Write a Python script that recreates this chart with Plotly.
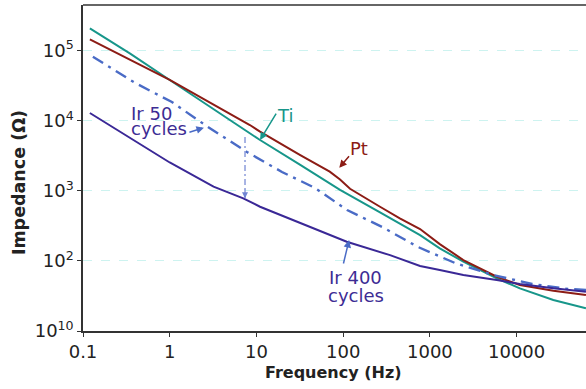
import numpy as np
import plotly.graph_objects as go

# Impedance spectra (|Z| in ohm vs frequency in Hz)
pt_freq = [0.12, 0.35, 1.0, 8.4, 11, 32, 70, 92, 120, 266, 450, 770, 1300, 2430, 5900, 10900, 26500, 63000]
pt_imp = [145000, 74300, 38200, 8700, 7000, 3240, 1880, 1450, 1070, 593, 405, 285, 174, 103, 59.5, 45.3, 37.6, 32.6]

ti_freq = [0.12, 0.35, 1.0, 8.4, 11, 32, 92, 266, 770, 1300, 2430, 5900, 10900, 26500, 63000]
ti_imp = [208700, 91000, 38200, 6620, 5310, 2340, 1030, 491, 234, 151, 97.5, 56.5, 40.6, 27.7, 21.1]

ir50_freq = [0.13, 0.40, 1.06, 1.63, 2.76, 7.78, 19.7, 47.3, 111, 281, 730, 1950, 5350, 15100, 39200, 63100]
ir50_imp = [82000, 34600, 18500, 12900, 8150, 3580, 1860, 1100, 532, 305, 158, 93.3, 63, 46.9, 39.8, 38.5]

ir400_freq = [0.12, 0.35, 0.71, 1.0, 3.2, 7.05, 11, 32, 49.5, 110, 347, 770, 1300, 2430, 5900, 10900, 26500, 63000]
ir400_imp = [12900, 5700, 3300, 2540, 1150, 782, 593, 344, 276, 188, 121, 84.5, 74.1, 63, 53.4, 46.8, 40.6, 36.3]

# drop from Ir 50 cycles to Ir 400 cycles
drop_freq = [7.38, 7.38]
drop_imp = [5860, 782]

x_ticks = [0.1, 1, 10, 100, 1000, 10000]
x_labels = ["0.1", "1", "10", "100", "1000", "10000"]
y_ticks = [10, 100, 1000, 10000, 100000]
y_labels = ["10<sup>10</sup>", "10<sup>2</sup>", "10<sup>3</sup>", "10<sup>4</sup>", "10<sup>5</sup>"]

TEAL = "#17968a"
RED = "#8c1c15"
BLUE = "#4a6bc6"
INDIGO = "#3a2896"
LABEL = "#3d2c94"
FONT = "DejaVu Sans, Arial, sans-serif"

fig = go.Figure()
fig.add_trace(go.Scatter(x=ti_freq, y=ti_imp, mode="lines",
                         line=dict(color=TEAL, width=2)))
fig.add_trace(go.Scatter(x=pt_freq, y=pt_imp, mode="lines",
                         line=dict(color=RED, width=2)))
fig.add_trace(go.Scatter(x=ir50_freq, y=ir50_imp, mode="lines",
                         line=dict(color=BLUE, width=2.4, dash="12px,6px,3px,6px")))
fig.add_trace(go.Scatter(x=ir400_freq, y=ir400_imp, mode="lines",
                         line=dict(color=INDIGO, width=2)))
fig.add_trace(go.Scatter(x=drop_freq, y=drop_imp, mode="lines",
                         line=dict(color="#6f84d2", width=1.2, dash="6px,3px,2px,3px")))

L = np.log10


def label(text, f, z, color, xanchor="center"):
    return dict(x=L(f), y=L(z), xref="x", yref="y", text=text, showarrow=False,
                xanchor=xanchor, yanchor="middle",
                font=dict(family=FONT, size=18, color=color))


def arrow(f, z, ax, ay, color, width=1.5):
    return dict(x=L(f), y=L(z), xref="x", yref="y", text="", showarrow=True,
                ax=ax, ay=ay, arrowhead=2, arrowsize=1, arrowwidth=width,
                arrowcolor=color, standoff=0, startstandoff=0)


annotations = [
    label("Ti", 21.5, 12080, TEAL),
    arrow(11.0, 5310, 17, -28, TEAL),
    label("Pt", 152, 4050, RED),
    arrow(90.2, 2140, 11, -13, RED),
    label("Ir 50", 0.336, 12900, LABEL, "left"),
    label("cycles", 0.336, 7800, LABEL, "left"),
    arrow(2.48, 7960, -16, 5, BLUE),
    label("Ir 400", 137, 58.3, LABEL),
    label("cycles", 139, 32.6, LABEL),
    arrow(117, 199, -6, 25, BLUE),
    arrow(drop_freq[1], drop_imp[1], 0, -10, "#6f84d2", 1.2),
    dict(x=0.499, y=-0.127, xref="paper", yref="paper", text="<b>Frequency (Hz)</b>",
         showarrow=False, xanchor="center", yanchor="middle",
         font=dict(family=FONT, size=16, color="#222222")),
    dict(x=-0.128, y=0.4555, xref="paper", yref="paper", text="<b>Impedance (Ω)</b>",
         showarrow=False, xanchor="center", yanchor="middle", textangle=-90,
         font=dict(family=FONT, size=17.5, color="#222222")),
]

fig.update_layout(
    width=586, height=389,
    margin=dict(l=83, r=0, t=5, b=58),
    paper_bgcolor="white", plot_bgcolor="white",
    showlegend=False,
    font=dict(family=FONT, size=18, color="#222222"),
    annotations=annotations,
    shapes=[dict(type="line", xref="paper", yref="paper", x0=0, x1=1, y0=1, y1=1,
                 line=dict(color="#333333", width=1.5))],
    xaxis=dict(type="log", range=[-1, 4.8], tickvals=x_ticks, ticktext=x_labels,
               showgrid=False, zeroline=False, showline=True, linecolor="#333333",
               linewidth=1.5, ticks="outside", ticklen=4, tickcolor="#333333",
               tickfont=dict(family=FONT, size=18, color="#222222")),
    yaxis=dict(type="log", range=[1, 5.652], tickvals=y_ticks, ticktext=y_labels,
               showgrid=True, gridcolor="#cdf3f0", griddash="dash", gridwidth=1,
               zeroline=False, showline=True, linecolor="#333333",
               linewidth=1.5, ticks="outside", ticklen=4, tickcolor="#333333",
               tickfont=dict(family=FONT, size=18, color="#222222")),
)

fig.write_html("out.html")
